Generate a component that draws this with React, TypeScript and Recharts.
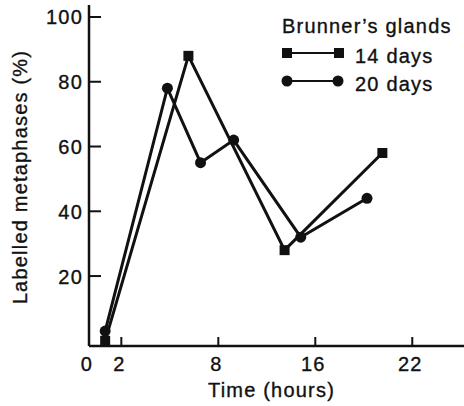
import { LineChart, Line, XAxis, YAxis, Legend } from 'recharts'

// Brunner's glands, labelled metaphases over time
const DAYS_14_HOURS = [1, 6.15, 12.1, 18.15]
const DAYS_14_VALUES = [0, 88, 28, 58]
const DAYS_20_HOURS = [1, 4.85, 6.9, 8.95, 13.1, 17.2]
const DAYS_20_VALUES = [3, 78, 55, 62, 32, 44]

const SERIES_NAMES = ['14 days', '20 days']
const LEGEND_TITLE = 'Brunner’s glands'

const X_TICKS = [0, 2, 8, 14, 20]
const X_TICK_LABELS = ['0', '2', '8', '16', '22']
const Y_TICKS = [20, 40, 60, 80, 100]

const X_TITLE = 'Time (hours)'
const Y_TITLE = 'Labelled metaphases (%)'

const INK = '#111'
const FONT = '"Liberation Sans", Arial, Helvetica, sans-serif'
const textStyle = {
    fontFamily: FONT,
    fontSize: 20,
    fill: INK,
    stroke: INK,
    strokeWidth: 0.35,
    letterSpacing: 1.2,
}

const toPoints = (xs: number[], ys: number[]) => xs.map((x, i) => ({ x, y: ys[i] }))
const data14 = toPoints(DAYS_14_HOURS, DAYS_14_VALUES)
const data20 = toPoints(DAYS_20_HOURS, DAYS_20_VALUES)

function SquareDot(props: any) {
    const { cx, cy, index } = props
    if (cx == null || cy == null) return null
    return <rect key={`sq-${index}`} x={cx - 5} y={cy - 5} width={10} height={10} fill={INK} />
}

function CircleDot(props: any) {
    const { cx, cy, index } = props
    if (cx == null || cy == null) return null
    return <circle key={`ci-${index}`} cx={cx} cy={cy} r={5.5} fill={INK} />
}

function XTick(props: any) {
    const { x, y, payload } = props
    const idx = X_TICKS.indexOf(payload.value)
    return (
        <g>
            {payload.value !== 0 && <line x1={x} x2={x} y1={y} y2={y - 9} stroke={INK} strokeWidth={2} />}
            <text x={x - 2} y={y + 25} textAnchor="middle" style={textStyle}>
                {X_TICK_LABELS[idx]}
            </text>
        </g>
    )
}

function YTick(props: any) {
    const { x, y, payload } = props
    return (
        <g>
            <line x1={x} x2={x + 12} y1={y} y2={y} stroke={INK} strokeWidth={2} />
            <text x={x - 6} y={y + 7.5} textAnchor="end" style={textStyle}>
                {payload.value}
            </text>
        </g>
    )
}

const xLabel = (props: any) => {
    const vb = props.viewBox
    return (
        <text x={vb.x + vb.width / 2 - 5} y={vb.y + 51} textAnchor="middle" style={textStyle}>
            {X_TITLE}
        </text>
    )
}

const yLabel = (props: any) => {
    const vb = props.viewBox
    const x = vb.x + 27
    const y = vb.y + vb.height / 2 + 1.5
    return (
        <text x={x} y={y} textAnchor="middle" transform={`rotate(-90 ${x} ${y})`} style={textStyle}>
            {Y_TITLE}
        </text>
    )
}

function LegendBlock() {
    return (
        <svg width={194} height={100} style={{ display: 'block', overflow: 'visible' }}>
            <text x={12} y={33} style={textStyle}>{LEGEND_TITLE}</text>
            {SERIES_NAMES.map((name, i) => {
                const cy = 53 + i * 28
                return (
                    <g key={name}>
                        <line x1={17} x2={68} y1={cy} y2={cy} stroke={INK} strokeWidth={2} />
                        {i === 0 ? (
                            <>
                                <rect x={12} y={cy - 5} width={10} height={10} fill={INK} />
                                <rect x={64} y={cy - 5} width={10} height={10} fill={INK} />
                            </>
                        ) : (
                            <>
                                <circle cx={17} cy={cy} r={5.5} fill={INK} />
                                <circle cx={68} cy={cy} r={5.5} fill={INK} />
                            </>
                        )}
                        <text x={85} y={cy + 10} style={textStyle}>{name}</text>
                    </g>
                )
            })}
        </svg>
    )
}

export default function App() {
    return (
        <div style={{ position: 'absolute', left: 0, top: 0, background: '#fff' }}>
            <LineChart width={464} height={406} margin={{ top: 5, right: 0, bottom: 0, left: 0 }}>
                <XAxis
                    type="number"
                    dataKey="x"
                    domain={[0, 23.2]}
                    ticks={X_TICKS}
                    interval={0}
                    allowDataOverflow
                    height={60}
                    axisLine={{ stroke: INK, strokeWidth: 2.5 }}
                    tickLine={false}
                    tickSize={0}
                    tickMargin={0}
                    tick={(p: any) => <XTick {...p} />}
                    label={xLabel}
                />
                <YAxis
                    type="number"
                    dataKey="y"
                    domain={[-1.6, 103.7]}
                    ticks={Y_TICKS}
                    interval={0}
                    allowDataOverflow
                    width={89}
                    axisLine={{ stroke: INK, strokeWidth: 2.5 }}
                    tickLine={false}
                    tickSize={0}
                    tickMargin={0}
                    tick={(p: any) => <YTick {...p} />}
                    label={yLabel}
                />
                <Legend
                    layout="vertical"
                    align="center"
                    verticalAlign="middle"
                    wrapperStyle={{ top: 0, left: 270, width: 194, height: 100 }}
                    content={() => <LegendBlock />}
                />
                <Line
                    data={data14}
                    dataKey="y"
                    name={SERIES_NAMES[0]}
                    type="linear"
                    stroke={INK}
                    strokeWidth={3}
                    dot={(p: any) => <SquareDot key={`sq-${p.index}`} {...p} />}
                    activeDot={false}
                    isAnimationActive={false}
                />
                <Line
                    data={data20}
                    dataKey="y"
                    name={SERIES_NAMES[1]}
                    type="linear"
                    stroke={INK}
                    strokeWidth={3}
                    dot={(p: any) => <CircleDot key={`ci-${p.index}`} {...p} />}
                    activeDot={false}
                    isAnimationActive={false}
                />
            </LineChart>
        </div>
    )
}
